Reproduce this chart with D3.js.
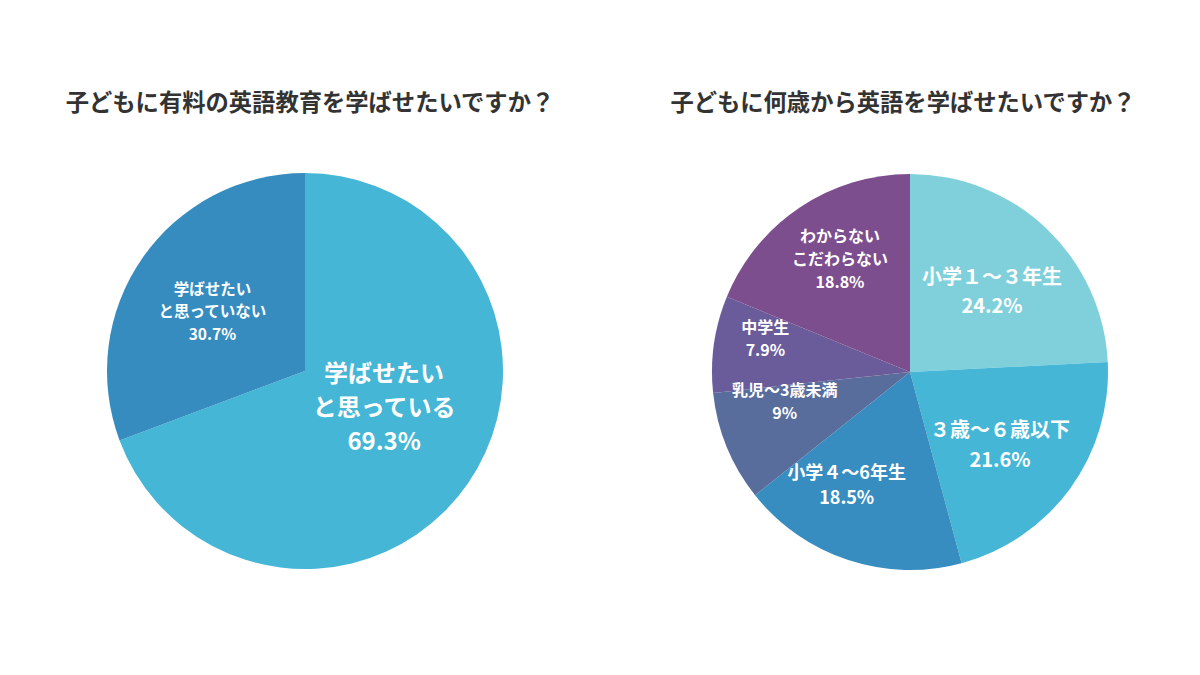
<!DOCTYPE html>
<html>
<head>
<meta charset="utf-8">
<script src="https://cdn.jsdelivr.net/npm/d3@7"></script>
<style>
  body { margin: 0; background: #fff; }
  svg { display: block; font-family: "Noto Sans CJK JP", "Noto Sans", sans-serif; }
</style>
</head>
<body>
<div id="chart"></div>
<script>
// left pie: paid English education
const leftLabels = [["学ばせたい", "と思っている"], ["学ばせたい", "と思っていない"]];
const leftValues = [69.3, 30.7];
const leftColors = ["#45b6d6", "#368cbf"];

// right pie: from which age
const rightLabels = [
  ["小学１～３年生"], ["３歳～６歳以下"], ["小学４～6年生"],
  ["乳児～3歳未満"], ["中学生"], ["わからない", "こだわらない"]
];
const rightValues = [24.2, 21.6, 18.5, 9, 7.9, 18.8];
const rightColors = ["#80d0db", "#45b6d6", "#378dc0", "#596d9c", "#6a5c9b", "#7d4e8e"];

const titles = ["子どもに有料の英語教育を学ばせたいですか？", "子どもに何歳から英語を学ばせたいですか？"];

const W = 1200, H = 675;
const svg = d3.select("#chart").append("svg").attr("width", W).attr("height", H);

// label placement per slice: radius fraction, angle nudge (deg), font size, line height
const leftLabelOpts = [
  { r: 0.44, rot: -10, size: 24, lh: 34 },
  { r: 0.556, rot: -2, size: 15.5, lh: 22.5 }
];
const rightLabelOpts = [
  { r: 0.58, rot: 2, size: 20, lh: 29 },
  { r: 0.585, rot: 3, size: 20, lh: 30 },
  { r: 0.656, rot: 11, size: 18, lh: 25 },
  { r: 0.65, rot: 9, size: 16, lh: 22.5 },
  { r: 0.75, rot: 5, size: 16, lh: 23 },
  { r: 0.67, rot: 2, size: 16, lh: 23 }
];

function drawPie(cx, cy, radius, labels, values, colors, opts, title, titleX) {
  const g = svg.append("g").attr("transform", `translate(${cx},${cy})`);

  const pie = d3.pie().sort(null).value(d => d);
  const arcs = pie(values);
  const arc = d3.arc().innerRadius(0).outerRadius(radius);

  g.selectAll("path")
    .data(arcs)
    .enter()
    .append("path")
    .attr("d", arc)
    .attr("fill", (d, i) => colors[i]);

  arcs.forEach((d, i) => {
    const o = opts[i];
    const shift = o.rot * Math.PI / 180;
    const c = d3.arc().innerRadius(radius * o.r).outerRadius(radius * o.r)
      .centroid({ startAngle: d.startAngle + shift, endAngle: d.endAngle + shift });
    const lines = labels[i].concat([values[i] + "%"]);
    const t = g.append("text")
      .attr("text-anchor", "middle")
      .attr("fill", "#fff")
      .attr("font-weight", 700)
      .attr("font-size", o.size);
    lines.forEach((ln, k) => {
      t.append("tspan")
        .attr("x", c[0])
        .attr("y", c[1] + (k - (lines.length - 1) / 2) * o.lh + o.size * 0.36)
        .text(ln);
    });
  });

  svg.append("text")
    .attr("x", titleX)
    .attr("y", 111)
    .attr("text-anchor", "middle")
    .attr("font-size", 23.3)
    .attr("font-weight", 700)
    .attr("fill", "#333")
    .text(title);
}

drawPie(305, 371, 198, leftLabels, leftValues, leftColors, leftLabelOpts, titles[0], 310);
drawPie(910, 372, 198, rightLabels, rightValues, rightColors, rightLabelOpts, titles[1], 903);
</script>
</body>
</html>
